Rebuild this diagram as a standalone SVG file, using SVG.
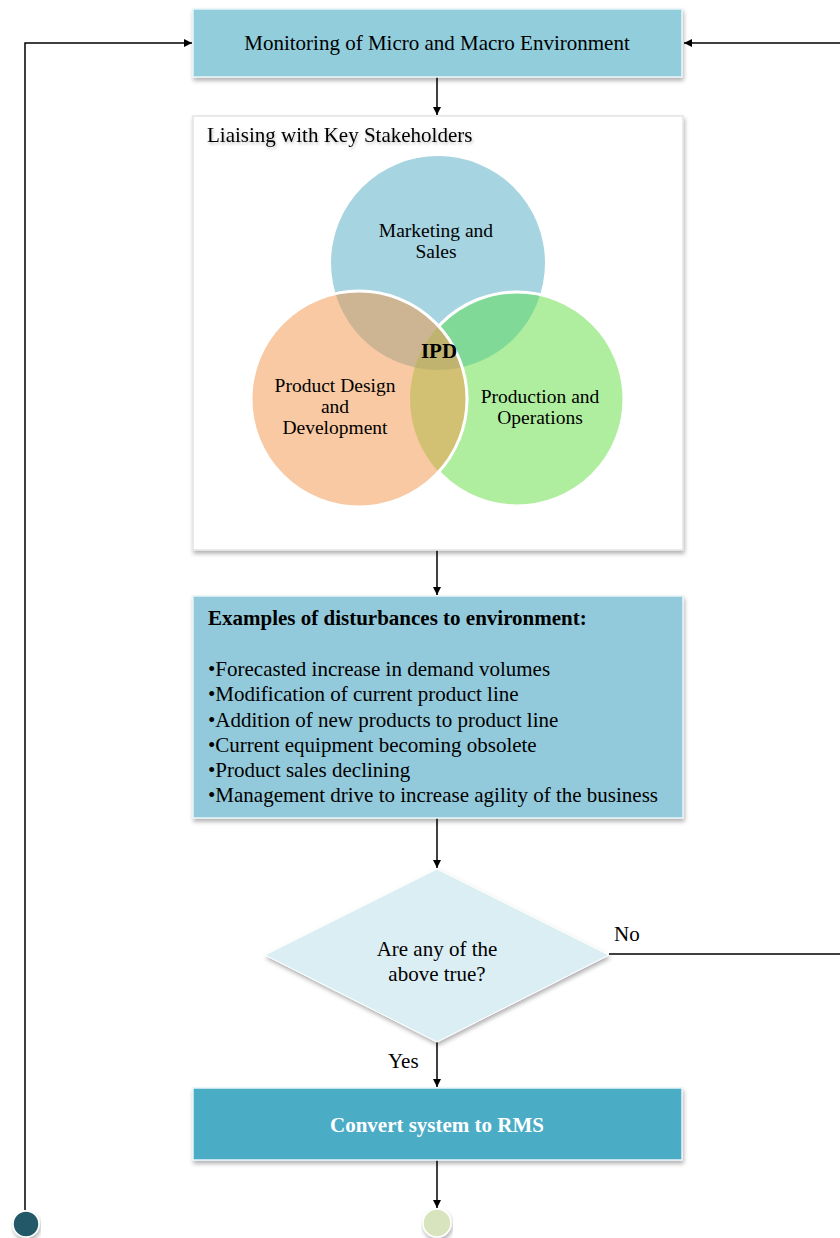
<svg xmlns="http://www.w3.org/2000/svg" width="840" height="1238" viewBox="0 0 840 1238">
<style>
text{font-family:"Liberation Serif","Times New Roman",serif;font-size:21px;fill:#000}
.c{text-anchor:middle}
.b{font-weight:bold}
.w{fill:#fff}
.v{font-size:19.5px}
.ln{stroke:#000;stroke-width:1.5;fill:none}
</style>
<defs>
<filter id="sh" x="-5%" y="-5%" width="110%" height="120%">
<feDropShadow dx="1" dy="3" stdDeviation="2" flood-color="#000" flood-opacity="0.3"/>
</filter>
<filter id="tsh" x="-5%" y="-30%" width="110%" height="180%">
<feDropShadow dx="1" dy="2" stdDeviation="1.5" flood-color="#000" flood-opacity="0.25"/>
</filter>
<marker id="ar" viewBox="0 0 10 10" refX="10" refY="5" markerWidth="8" markerHeight="8" markerUnits="userSpaceOnUse" orient="auto">
<path d="M0,0 L10,5 L0,10 z" fill="#000"/>
</marker>
<clipPath id="cb"><circle cx="438" cy="263" r="107"/></clipPath>
<clipPath id="co"><circle cx="359" cy="399" r="108"/></clipPath>
<mask id="notO">
<rect x="0" y="0" width="840" height="1238" fill="#fff"/>
<circle cx="359" cy="399" r="108" fill="#000"/>
</mask>
</defs>

<g id="connectors">
<polyline class="ln" points="25,1210 25,43 192,43" marker-end="url(#ar)"/>
<line class="ln" x1="840" y1="43" x2="684" y2="43" marker-end="url(#ar)"/>
<line class="ln" x1="437" y1="77" x2="437" y2="115" marker-end="url(#ar)"/>
<line class="ln" x1="437" y1="550" x2="437" y2="595" marker-end="url(#ar)"/>
<line class="ln" x1="437" y1="818" x2="437" y2="868" marker-end="url(#ar)"/>
<line class="ln" x1="609" y1="954" x2="840" y2="954"/>
<line class="ln" x1="437" y1="1042" x2="437" y2="1087" marker-end="url(#ar)"/>
<line class="ln" x1="437" y1="1160" x2="437" y2="1208" marker-end="url(#ar)"/>
<text x="614" y="941">No</text>
<text x="388" y="1068">Yes</text>
</g>

<g id="monitoring">
<rect x="193" y="9" width="489" height="68" fill="#92cddc" stroke="#e8f4f8" stroke-width="1.5" filter="url(#sh)"/>
<text class="c" x="437" y="50">Monitoring of Micro and Macro Environment</text>
</g>

<g id="stakeholders">
<rect x="193" y="116" width="490" height="434" fill="#fff" stroke="#e3e3e3" stroke-width="1.5" filter="url(#sh)"/>
<text x="207" y="142" filter="url(#tsh)">Liaising with Key Stakeholders</text>
<circle cx="438" cy="263" r="107" fill="#a6d4e1"/>
<circle cx="517" cy="399" r="107" fill="#b0ee9f"/>
<circle cx="359" cy="399" r="108" fill="#f8c9a2"/>
<g clip-path="url(#cb)">
<circle cx="359" cy="399" r="108" fill="#cdb594"/>
<circle cx="517" cy="399" r="107" fill="#80d996"/>
</g>
<g clip-path="url(#co)">
<circle cx="517" cy="399" r="107" fill="#d2c172"/>
<g clip-path="url(#cb)">
<circle cx="517" cy="399" r="107" fill="#bfb36f"/>
</g>
</g>
<circle cx="517" cy="399" r="107" fill="none" stroke="#fff" stroke-width="3" mask="url(#notO)"/>
<circle cx="359" cy="399" r="108" fill="none" stroke="#fff" stroke-width="3"/>
<text class="c v" x="436" y="237">Marketing and</text>
<text class="c v" x="436" y="258">Sales</text>
<text class="c b" x="439" y="358">IPD</text>
<text class="c v" x="335" y="392">Product Design</text>
<text class="c v" x="335" y="413">and</text>
<text class="c v" x="335" y="434">Development</text>
<text class="c v" x="540" y="403">Production and</text>
<text class="c v" x="540" y="424">Operations</text>
</g>

<g id="disturbances">
<rect x="193" y="596" width="490" height="222" fill="#92cadb" stroke="#e8f4f8" stroke-width="1.5" filter="url(#sh)"/>
<text class="b" x="208" y="625">Examples of disturbances to environment:</text>
<text x="208" y="676">•Forecasted increase in demand volumes</text>
<text x="208" y="701">•Modification of current product line</text>
<text x="208" y="727">•Addition of new products to product line</text>
<text x="208" y="752">•Current equipment becoming obsolete</text>
<text x="208" y="777">•Product sales declining</text>
<text x="208" y="802">•Management drive to increase agility of the business</text>
</g>

<g id="decision">
<polygon points="437,869 609,955 437,1042 265,955" fill="#dbeef4" stroke="#fff" stroke-width="1" filter="url(#sh)"/>
<text class="c" x="437" y="956">Are any of the</text>
<text class="c" x="437" y="981">above true?</text>
</g>

<g id="convert">
<rect x="193" y="1088" width="489" height="72" fill="#4bacc6" stroke="#e8f4f8" stroke-width="1.5" filter="url(#sh)"/>
<text class="c b w" x="437" y="1132">Convert system to RMS</text>
</g>

<g id="end-left">
<circle cx="26" cy="1224" r="13" fill="#215968" stroke="#fff" stroke-width="1.5" filter="url(#sh)"/>
</g>
<g id="end-center">
<circle cx="437" cy="1223" r="14" fill="#d7e4bd" stroke="#fff" stroke-width="1.5" filter="url(#sh)"/>
</g>
</svg>
